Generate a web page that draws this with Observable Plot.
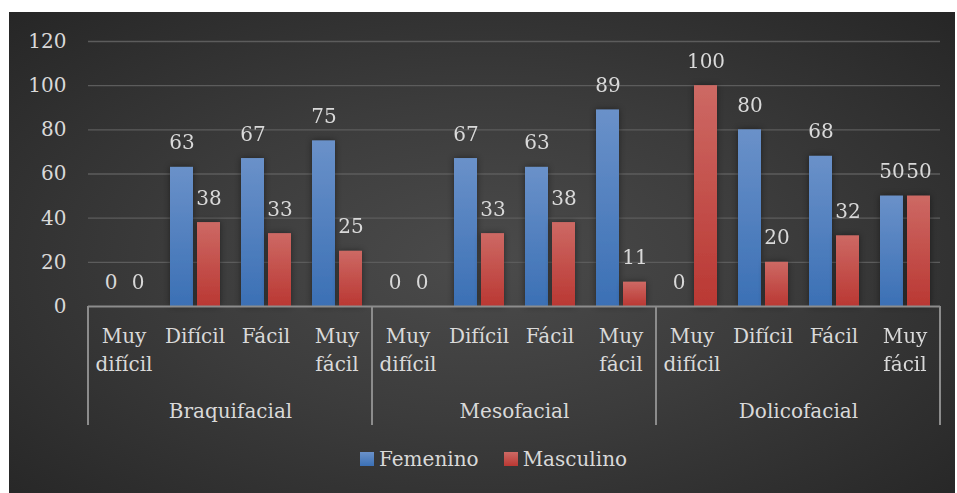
<!DOCTYPE html>
<html>
<head>
<meta charset="utf-8">
<script src="https://cdn.jsdelivr.net/npm/d3@7"></script>
<script src="https://cdn.jsdelivr.net/npm/@observablehq/plot@0.6"></script>
<style>
  body { margin: 0; background: #ffffff; }
  #chart {
    position: absolute; left: 9px; top: 12px; width: 946px; height: 481px; overflow: hidden;
    background: radial-gradient(ellipse farthest-corner at 50% 52%, #4b4b4b 0%, #3c3c3c 45%, #262626 100%);
    font-family: "DejaVu Serif", serif; color: #d9d9d9;
  }
  #chart svg { position: absolute; left: 0; top: 0; }
  #legend {
    position: absolute; left: 351px; top: 437px; display: flex; align-items: center;
    font-size: 20px; line-height: 20px; color: #d9d9d9;
  }
  .item { display: flex; align-items: center; margin-right: 25px; }
  .sw { width: 14px; height: 14px; margin-right: 5px; }
</style>
</head>
<body>
<div id="chart">
  <div id="legend">
    <div class="item"><span class="sw" style="background:linear-gradient(#6a91c9,#3b70b5)"></span>Femenino</div>
    <div class="item"><span class="sw" style="background:linear-gradient(#cd6964,#ba3833)"></span>Masculino</div>
  </div>
</div>
<script>
// Facial biotype groups, difficulty ratings, and percentage by sex
const groups = ["Braquifacial", "Mesofacial", "Dolicofacial"];
const categories = ["Muy difícil", "Difícil", "Fácil", "Muy fácil"];
const femenino = [
  [0, 63, 67, 75],
  [0, 67, 63, 89],
  [0, 80, 68, 50]
];
const masculino = [
  [0, 38, 33, 25],
  [0, 33, 38, 11],
  [100, 20, 32, 50]
];
const yTicks = [0, 20, 40, 60, 80, 100, 120];

const rows = groups.flatMap((g, i) =>
  categories.map((c, j) => ({group: g, cat: c, fem: femenino[i][j], mas: masculino[i][j]}))
);

const plot = Plot.plot({
  width: 946,
  height: 430,
  marginLeft: 79,
  marginRight: 15,
  marginTop: 29,
  marginBottom: 136,
  style: {background: "transparent", color: "#d9d9d9", fontFamily: "DejaVu Serif", fontSize: "20px"},
  fx: {domain: groups, padding: 0, label: null},
  x: {domain: categories, padding: 0},
  y: {domain: [0, 120]},
  marks: [
    Plot.gridY(yTicks.filter(d => d > 0), {stroke: "#5c5c5c", strokeOpacity: 1, strokeWidth: 1.3}),
    Plot.axisY(yTicks, {tickSize: 0, tickPadding: 22, fontSize: 20, label: null, fill: "#d9d9d9"}),
    Plot.barY(rows, {fx: "group", x: "cat", y: "fem", fill: "url(#gFem)", insetLeft: 11, insetRight: 37}),
    Plot.barY(rows, {fx: "group", x: "cat", y: "mas", fill: "url(#gMas)", insetLeft: 38, insetRight: 10}),
    Plot.text(rows, {fx: "group", x: "cat", y: "fem", text: d => String(d.fem), dx: -13, dy: -18, lineAnchor: "bottom", fontSize: 20, fill: "#d9d9d9"}),
    Plot.text(rows, {fx: "group", x: "cat", y: "mas", text: d => String(d.mas), dx: 14, dy: -18, lineAnchor: "bottom", fontSize: 20, fill: "#d9d9d9"}),
    Plot.ruleY([0], {stroke: "#8c8c8c", strokeWidth: 2}),
    Plot.axisX({anchor: "bottom", tickSize: 0, tickPadding: 17, label: null, fontSize: 20, lineHeight: 1.4,
      fill: "#d9d9d9", tickFormat: d => d.replace(" ", "\n")}),
    Plot.axisFx({anchor: "bottom", tickSize: 0, tickPadding: 97, label: null, fontSize: 20, fill: "#d9d9d9"})
  ]
});

const svg = d3.select(plot);
svg.insert("defs", ":first-child").html(`
  <linearGradient id="gFem" x1="0" y1="0" x2="0" y2="1">
    <stop offset="0" stop-color="#6a91c9"/><stop offset="1" stop-color="#3b70b5"/>
  </linearGradient>
  <linearGradient id="gMas" x1="0" y1="0" x2="0" y2="1">
    <stop offset="0" stop-color="#cd6964"/><stop offset="1" stop-color="#ba3833"/>
  </linearGradient>
  <filter id="shadow" x="-30%" y="-10%" width="160%" height="120%">
    <feDropShadow dx="0" dy="0" stdDeviation="3" flood-color="#000" flood-opacity="0.45"/>
  </filter>`);
svg.selectAll("g[aria-label='bar']").attr("filter", "url(#shadow)");

// Group separators below the baseline, placed from the facet and y scales
const fx = plot.scale("fx");
const y = plot.scale("y");
const y0 = y.apply(0);
const edges = groups.map(g => fx.apply(g));
edges.push(fx.apply(groups[groups.length - 1]) + fx.bandwidth);
svg.append("g").attr("stroke", "#8c8c8c").attr("stroke-width", 2)
  .selectAll("line").data(edges).join("line")
  .attr("x1", d => d).attr("x2", d => d)
  .attr("y1", y0).attr("y2", y0 + 119);

document.getElementById("chart").appendChild(plot);
</script>
</body>
</html>
